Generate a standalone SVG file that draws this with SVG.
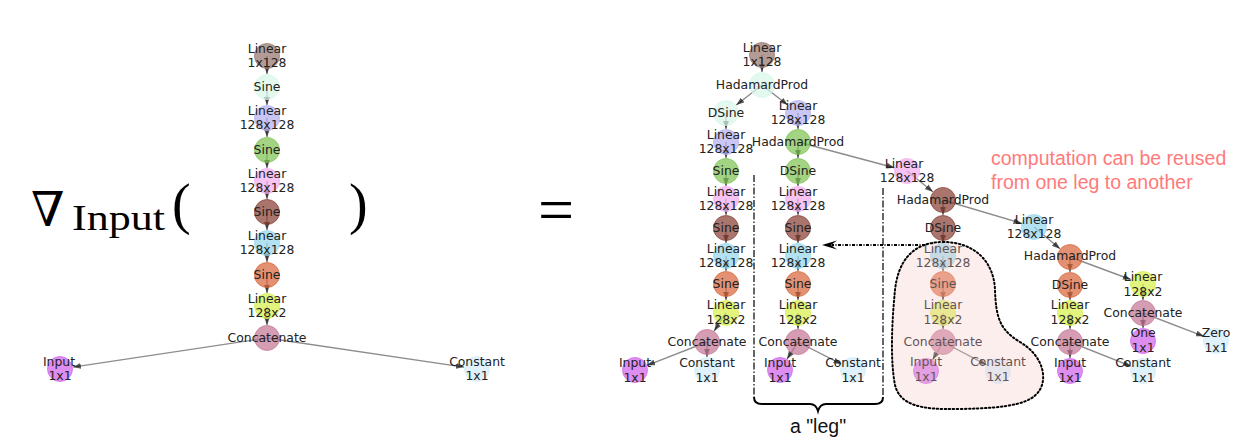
<svg xmlns="http://www.w3.org/2000/svg" width="1251" height="446" viewBox="0 0 1251 446">
<style>
.bg{fill:#fff}
.e{stroke:#000;stroke-opacity:.45;stroke-width:1.4;fill:none;marker-end:url(#ah)}
.n circle{fill-opacity:.7;stroke-opacity:.7;stroke-width:1}
.n text{font-family:"DejaVu Sans",sans-serif;font-size:12.4px;fill:#222;text-anchor:middle}
.rose{fill:#94726a;stroke:#94726a}
.mint{fill:#d7f6e8;stroke:#d7f6e8}
.lav{fill:#b2aeef;stroke:#b2aeef}
.grn{fill:#7ac24e;stroke:#7ac24e}
.pnk{fill:#f2a9ee;stroke:#f2a9ee}
.brn{fill:#843a2d;stroke:#843a2d}
.lbl{fill:#91d6eb;stroke:#91d6eb}
.org{fill:#d76336;stroke:#d76336}
.yel{fill:#d6ef47;stroke:#d6ef47}
.mau{fill:#c37394;stroke:#c37394}
.vio{fill:#ce5eea;stroke:#ce5eea}
.pbl{fill:#d1ecf9;stroke:#d1ecf9}
.dd{stroke:#000;stroke-width:1.2;stroke-dasharray:7 2 1.5 2;fill:none}
.note{font-family:"Liberation Sans",Arial,sans-serif;font-size:19.5px}
.math{font-family:"Liberation Serif","Times New Roman",serif;fill:#000}
</style>
<defs>
<marker id="ah" viewBox="0 0 8 6" refX="8" refY="3" markerWidth="8" markerHeight="6" markerUnits="userSpaceOnUse" orient="auto">
<path d="M0,0 L8,3 L0,6 z" fill="#000" fill-opacity=".65"/>
</marker>
</defs>
<rect class="bg" x="0" y="0" width="1251" height="446"/>

<!-- formula -->
<g id="formula">
<text x="31" y="226" font-family="DejaVu Serif,serif" font-size="48" fill="#000">∇</text>
<text class="math" x="72" y="230" font-size="36" textLength="93" lengthAdjust="spacingAndGlyphs">Input</text>
<text class="math" x="172" y="223" font-size="56">(</text>
<text class="math" x="349" y="223" font-size="56">)</text>
<text class="math" x="538" y="231" font-size="64">=</text>
</g>

<g id="connectors">
<!-- left graph -->
<line class="e" x1="267" y1="56" x2="267" y2="74"/>
<line class="e" x1="267" y1="87" x2="267" y2="105"/>
<line class="e" x1="267" y1="118" x2="267" y2="137"/>
<line class="e" x1="267" y1="150" x2="267" y2="168"/>
<line class="e" x1="267" y1="181" x2="267" y2="199"/>
<line class="e" x1="267" y1="212" x2="267" y2="230"/>
<line class="e" x1="267" y1="243" x2="267" y2="262"/>
<line class="e" x1="267" y1="275" x2="267" y2="293"/>
<line class="e" x1="267" y1="306" x2="267" y2="325"/>
<line class="e" x1="267" y1="338" x2="72.9" y2="367.1"/>
<line class="e" x1="267" y1="338" x2="464.1" y2="367.1"/>
<!-- right graph -->
<line class="e" x1="762" y1="55" x2="762" y2="72"/>
<line class="e" x1="762" y1="85" x2="736.3" y2="105"/>
<line class="e" x1="762" y1="85" x2="787.7" y2="105"/>
<line class="e" x1="726" y1="113" x2="726" y2="129"/>
<line class="e" x1="798" y1="113" x2="798" y2="129"/>
<line class="e" x1="726" y1="142" x2="726" y2="158"/>
<line class="e" x1="798" y1="142" x2="798" y2="158"/>
<line class="e" x1="798" y1="142" x2="894.4" y2="167.7"/>
<line class="e" x1="726" y1="171" x2="726" y2="186"/>
<line class="e" x1="798" y1="171" x2="798" y2="186"/>
<line class="e" x1="726" y1="199" x2="726" y2="215"/>
<line class="e" x1="798" y1="199" x2="798" y2="215"/>
<line class="e" x1="726" y1="228" x2="726" y2="243"/>
<line class="e" x1="798" y1="228" x2="798" y2="243"/>
<line class="e" x1="726" y1="256" x2="726" y2="271"/>
<line class="e" x1="798" y1="256" x2="798" y2="271"/>
<line class="e" x1="726" y1="284" x2="726" y2="300"/>
<line class="e" x1="798" y1="284" x2="798" y2="300"/>
<line class="e" x1="726" y1="313" x2="714.1" y2="331.1"/>
<line class="e" x1="798" y1="313" x2="798" y2="329"/>
<line class="e" x1="707" y1="342" x2="647.1" y2="365.3"/>
<line class="e" x1="707" y1="342" x2="707" y2="357"/>
<line class="e" x1="798" y1="342" x2="787" y2="359.1"/>
<line class="e" x1="798" y1="342" x2="841.4" y2="364.1"/>
<line class="e" x1="907" y1="171" x2="932.9" y2="191.8"/>
<line class="e" x1="943" y1="200" x2="943" y2="215"/>
<line class="e" x1="943" y1="200" x2="1021.5" y2="223.3"/>
<line class="e" x1="943" y1="228" x2="943" y2="243"/>
<line class="e" x1="943" y1="256" x2="943" y2="271"/>
<line class="e" x1="943" y1="284" x2="943" y2="300"/>
<line class="e" x1="943" y1="313" x2="943" y2="329"/>
<line class="e" x1="943" y1="342" x2="932.6" y2="359.8"/>
<line class="e" x1="943" y1="342" x2="986.5" y2="364.9"/>
<line class="e" x1="1034" y1="227" x2="1060" y2="248.7"/>
<line class="e" x1="1070" y1="257" x2="1070" y2="272"/>
<line class="e" x1="1070" y1="257" x2="1130.8" y2="279.5"/>
<line class="e" x1="1070" y1="285" x2="1070" y2="300"/>
<line class="e" x1="1070" y1="313" x2="1070" y2="329"/>
<line class="e" x1="1070" y1="342" x2="1070" y2="358"/>
<line class="e" x1="1070" y1="342" x2="1130.9" y2="366.2"/>
<line class="e" x1="1143" y1="284" x2="1143" y2="300"/>
<line class="e" x1="1143" y1="313" x2="1143" y2="328"/>
<line class="e" x1="1143" y1="313" x2="1203.9" y2="336.3"/>
</g>

<!-- left graph nodes -->
<g id="L1" class="n"><circle class="rose" cx="267" cy="56" r="12.5"/><text x="267" y="53">Linear</text><text x="267" y="67">1x128</text></g>
<g id="L2" class="n"><circle class="mint" cx="267" cy="87" r="12.5"/><text x="267" y="91">Sine</text></g>
<g id="L3" class="n"><circle class="lav" cx="267" cy="118" r="12.5"/><text x="267" y="115">Linear</text><text x="267" y="129">128x128</text></g>
<g id="L4" class="n"><circle class="grn" cx="267" cy="150" r="12.5"/><text x="267" y="154">Sine</text></g>
<g id="L5" class="n"><circle class="pnk" cx="267" cy="181" r="12.5"/><text x="267" y="178">Linear</text><text x="267" y="192">128x128</text></g>
<g id="L6" class="n"><circle class="brn" cx="267" cy="212" r="12.5"/><text x="267" y="216">Sine</text></g>
<g id="L7" class="n"><circle class="lbl" cx="267" cy="243" r="12.5"/><text x="267" y="240">Linear</text><text x="267" y="254">128x128</text></g>
<g id="L8" class="n"><circle class="org" cx="267" cy="275" r="12.5"/><text x="267" y="279">Sine</text></g>
<g id="L9" class="n"><circle class="yel" cx="267" cy="306" r="12.5"/><text x="267" y="303">Linear</text><text x="267" y="317">128x2</text></g>
<g id="L10" class="n"><circle class="mau" cx="267" cy="338" r="12.5"/><text x="267" y="342">Concatenate</text></g>
<g id="L11" class="n"><circle class="vio" cx="60" cy="369" r="12.5"/><text x="59" y="366">Input</text><text x="60" y="380">1x1</text></g>
<g id="L12" class="n"><circle class="pbl" cx="477" cy="369" r="12.5"/><text x="477" y="366">Constant</text><text x="477" y="380">1x1</text></g>

<!-- right graph nodes -->
<g id="R1" class="n"><circle class="rose" cx="762" cy="55" r="12.5"/><text x="762" y="52">Linear</text><text x="762" y="66">1x128</text></g>
<g id="R2" class="n"><circle class="mint" cx="762" cy="85" r="12.5"/><text x="762" y="89">HadamardProd</text></g>
<g id="R3" class="n"><circle class="mint" cx="726" cy="113" r="12.5"/><text x="726" y="117">DSine</text></g>
<g id="R4" class="n"><circle class="lav" cx="798" cy="113" r="12.5"/><text x="798" y="110">Linear</text><text x="798" y="124">128x128</text></g>
<g id="R5" class="n"><circle class="lav" cx="726" cy="142" r="12.5"/><text x="726" y="139">Linear</text><text x="726" y="153">128x128</text></g>
<g id="R6" class="n"><circle class="grn" cx="798" cy="142" r="12.5"/><text x="798" y="146">HadamardProd</text></g>
<g id="R7" class="n"><circle class="grn" cx="726" cy="171" r="12.5"/><text x="726" y="175">Sine</text></g>
<g id="R8" class="n"><circle class="grn" cx="798" cy="171" r="12.5"/><text x="798" y="175">DSine</text></g>
<g id="R9" class="n"><circle class="pnk" cx="726" cy="199" r="12.5"/><text x="726" y="196">Linear</text><text x="726" y="210">128x128</text></g>
<g id="R10" class="n"><circle class="pnk" cx="798" cy="199" r="12.5"/><text x="798" y="196">Linear</text><text x="798" y="210">128x128</text></g>
<g id="R11" class="n"><circle class="brn" cx="726" cy="228" r="12.5"/><text x="726" y="232">Sine</text></g>
<g id="R12" class="n"><circle class="brn" cx="798" cy="228" r="12.5"/><text x="798" y="232">Sine</text></g>
<g id="R13" class="n"><circle class="lbl" cx="726" cy="256" r="12.5"/><text x="726" y="253">Linear</text><text x="726" y="267">128x128</text></g>
<g id="R14" class="n"><circle class="lbl" cx="798" cy="256" r="12.5"/><text x="798" y="253">Linear</text><text x="798" y="267">128x128</text></g>
<g id="R15" class="n"><circle class="org" cx="726" cy="284" r="12.5"/><text x="726" y="288">Sine</text></g>
<g id="R16" class="n"><circle class="org" cx="798" cy="284" r="12.5"/><text x="798" y="288">Sine</text></g>
<g id="R17" class="n"><circle class="yel" cx="726" cy="313" r="12.5"/><text x="726" y="309">Linear</text><text x="726" y="324">128x2</text></g>
<g id="R18" class="n"><circle class="yel" cx="798" cy="313" r="12.5"/><text x="798" y="309">Linear</text><text x="798" y="324">128x2</text></g>
<g id="R19" class="n"><circle class="mau" cx="707" cy="342" r="12.5"/><text x="707" y="346">Concatenate</text></g>
<g id="R20" class="n"><circle class="mau" cx="798" cy="342" r="12.5"/><text x="798" y="346">Concatenate</text></g>
<g id="R21" class="n"><circle class="vio" cx="635" cy="370" r="12.5"/><text x="635" y="367">Input</text><text x="635" y="382">1x1</text></g>
<g id="R22" class="n"><circle class="pbl" cx="707" cy="370" r="12.5"/><text x="707" y="367">Constant</text><text x="707" y="382">1x1</text></g>
<g id="R23" class="n"><circle class="vio" cx="780" cy="370" r="12.5"/><text x="780" y="367">Input</text><text x="780" y="382">1x1</text></g>
<g id="R24" class="n"><circle class="pbl" cx="853" cy="370" r="12.5"/><text x="853" y="367">Constant</text><text x="853" y="382">1x1</text></g>
<g id="R25" class="n"><circle class="pnk" cx="907" cy="171" r="12.5"/><text x="904" y="168">Linear</text><text x="907" y="182">128x128</text></g>
<g id="R26" class="n"><circle class="brn" cx="943" cy="200" r="12.5"/><text x="943" y="204">HadamardProd</text></g>
<g id="R27" class="n"><circle class="brn" cx="943" cy="228" r="12.5"/><text x="943" y="232">DSine</text></g>
<g id="R28" class="n"><circle class="lbl" cx="943" cy="256" r="12.5"/><text x="943" y="253">Linear</text><text x="943" y="267">128x128</text></g>
<g id="R29" class="n"><circle class="org" cx="943" cy="284" r="12.5"/><text x="943" y="288">Sine</text></g>
<g id="R30" class="n"><circle class="yel" cx="943" cy="313" r="12.5"/><text x="943" y="309">Linear</text><text x="943" y="324">128x2</text></g>
<g id="R31" class="n"><circle class="mau" cx="943" cy="342" r="12.5"/><text x="943" y="346">Concatenate</text></g>
<g id="R32" class="n"><circle class="vio" cx="926" cy="371" r="12.5"/><text x="926" y="366">Input</text><text x="926" y="381">1x1</text></g>
<g id="R33" class="n"><circle class="pbl" cx="998" cy="371" r="12.5"/><text x="998" y="366">Constant</text><text x="998" y="381">1x1</text></g>
<g id="R34" class="n"><circle class="lbl" cx="1034" cy="227" r="12.5"/><text x="1034" y="224">Linear</text><text x="1034" y="238">128x128</text></g>
<g id="R35" class="n"><circle class="org" cx="1070" cy="257" r="12.5"/><text x="1070" y="260">HadamardProd</text></g>
<g id="R36" class="n"><circle class="org" cx="1070" cy="285" r="12.5"/><text x="1070" y="289">DSine</text></g>
<g id="R37" class="n"><circle class="yel" cx="1070" cy="313" r="12.5"/><text x="1070" y="309">Linear</text><text x="1070" y="324">128x2</text></g>
<g id="R38" class="n"><circle class="mau" cx="1070" cy="342" r="12.5"/><text x="1070" y="346">Concatenate</text></g>
<g id="R39" class="n"><circle class="vio" cx="1070" cy="371" r="12.5"/><text x="1070" y="367">Input</text><text x="1070" y="382">1x1</text></g>
<g id="R40" class="n"><circle class="pbl" cx="1143" cy="371" r="12.5"/><text x="1143" y="367">Constant</text><text x="1143" y="382">1x1</text></g>
<g id="R41" class="n"><circle class="yel" cx="1143" cy="284" r="12.5"/><text x="1143" y="281">Linear</text><text x="1143" y="296">128x2</text></g>
<g id="R42" class="n"><circle class="mau" cx="1143" cy="313" r="12.5"/><text x="1143" y="317">Concatenate</text></g>
<g id="R43" class="n"><circle class="vio" cx="1143" cy="341" r="12.5"/><text x="1143" y="337">One</text><text x="1143" y="352">1x1</text></g>
<g id="R44" class="n"><circle class="pbl" cx="1216" cy="341" r="12.5"/><text x="1216" y="337">Zero</text><text x="1216" y="352">1x1</text></g>

<!-- annotations -->
<g id="annotations">
<line class="dd" x1="754" y1="175" x2="754" y2="397"/>
<line class="dd" x1="883" y1="188" x2="883" y2="397"/>
<path d="M754,397 Q754,404 762,404 L810,404 Q816,404 818,411 Q820,404 826,404 L875,404 Q883,404 883,397" fill="none" stroke="#000" stroke-width="2"/>
<text class="note" x="818" y="433" text-anchor="middle" fill="#111">a "leg"</text>
<path d="M943,242 C975,242 994,262 995,290 C996,318 1000,330 1020,342 C1040,354 1046,372 1042,385 C1036,404 1010,408 960,409 C920,410 900,405 895,385 C890,360 892,320 895,290 C898,262 912,242 943,242 Z" fill="#f8c6c6" fill-opacity=".3" stroke="#000" stroke-width="2" stroke-dasharray="1.5 2.5" stroke-linecap="round"/>
<line x1="925" y1="245" x2="832" y2="245" stroke="#000" stroke-width="1.8" stroke-dasharray="3 1.5 1 1.5"/>
<path d="M822,245 L837,240.5 L831,245 L837,249.5 Z" fill="#000"/>
<text class="note" x="991" y="165" fill="#ff7a7a">computation can be reused</text>
<text class="note" x="991" y="189" fill="#ff7a7a">from one leg to another</text>
</g>
</svg>
